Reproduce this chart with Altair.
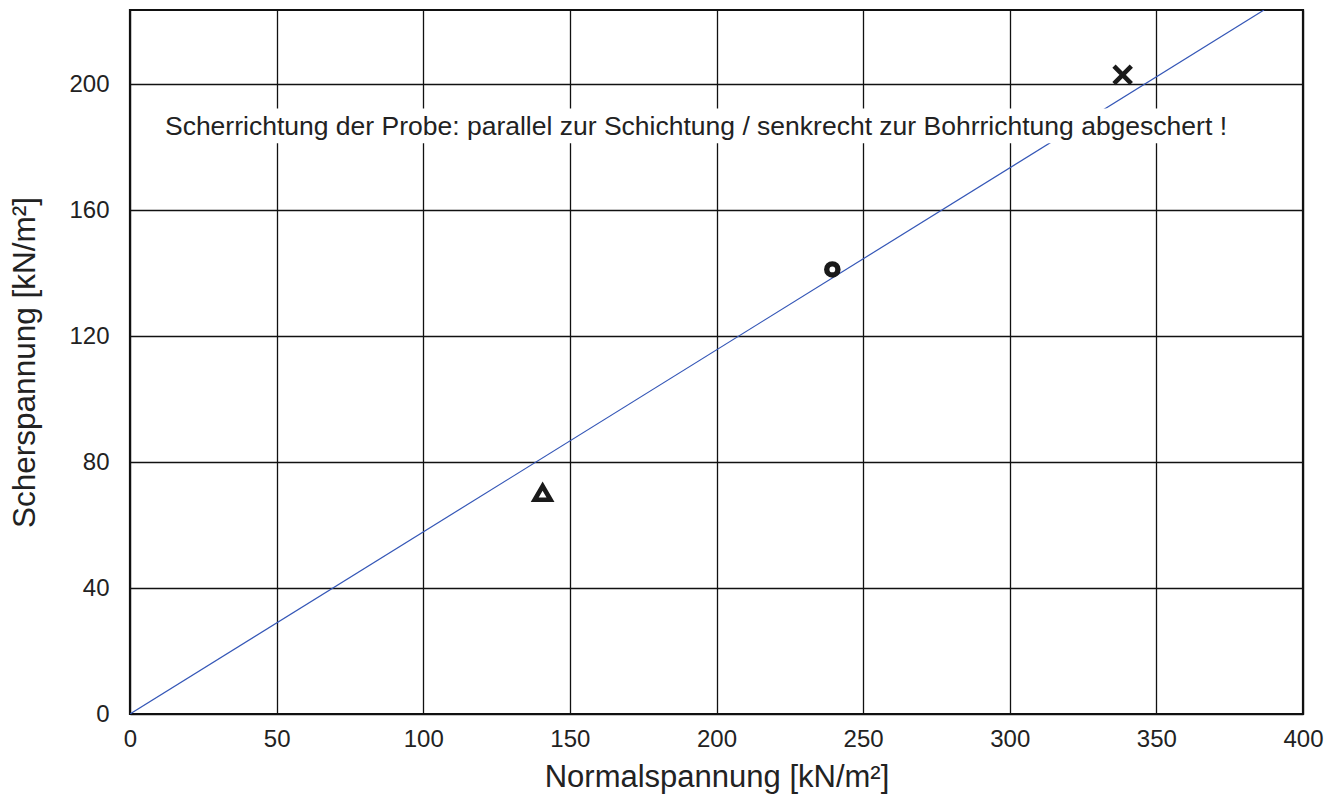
import altair as alt
import pandas as pd

# Shear test results (normal stress vs. shear stress, kN/m²)
test_labels = ["Versuch 1", "Versuch 2", "Versuch 3"]
normal_stress = [140.7, 239.5, 338.5]
shear_stress = [70.2, 141.2, 203.0]
marker_shapes = ["triangle-up", "circle", "M-1,-1L1,1M-1,1L1,-1"]
marker_sizes = [250, 125, 300]
marker_strokes = [4.6, 5.4, 4.6]

# Failure envelope through the origin
envelope_x = [0, 386.7]
envelope_y = [0, 223.6]

x_ticks = [0, 50, 100, 150, 200, 250, 300, 350, 400]
y_ticks = [0, 40, 80, 120, 160, 200]
x_max = 400
y_max = 223.6

note_text = "Scherrichtung der Probe: parallel zur Schichtung / senkrecht zur Bohrrichtung abgeschert !"
note_x = 193.0
note_y = 186.4
note_box_x = [9.0, 377.0]
note_box_y = [181.3, 192.3]

FONT = "Liberation Sans"
INK = "#222222"

x_scale = alt.Scale(domain=[0, x_max], nice=False, zero=True)
y_scale = alt.Scale(domain=[0, y_max], nice=False, zero=True)

x_axis = alt.Axis(
    values=x_ticks, title="Normalspannung [kN/m²]", grid=True,
    gridColor="#111111", gridWidth=1.3, gridOpacity=1, ticks=False,
    domain=False, labelPadding=13, labelFontSize=24, labelFont=FONT,
    labelColor=INK, titleFont=FONT, titleFontSize=31,
    titleFontWeight="normal", titleColor=INK, titlePadding=11,
    labelFlush=False,
)
y_axis = alt.Axis(
    values=y_ticks, title="Scherspannung [kN/m²]", grid=True,
    gridColor="#111111", gridWidth=1.3, gridOpacity=1, ticks=False,
    domain=False, labelPadding=21, labelFontSize=24, labelFont=FONT,
    labelColor=INK, titleFont=FONT, titleFontSize=31.5,
    titleFontWeight="normal", titleColor=INK, titlePadding=27,
    labelFlush=False,
)

base_df = pd.DataFrame({"x": [0], "y": [0]})
grid = alt.Chart(base_df).mark_point(opacity=0).encode(
    x=alt.X("x:Q", scale=x_scale, axis=x_axis),
    y=alt.Y("y:Q", scale=y_scale, axis=y_axis),
)

env_df = pd.DataFrame({"x": envelope_x, "y": envelope_y})
envelope = alt.Chart(env_df).mark_line(color="#3557b7", strokeWidth=1.2, clip=True).encode(
    x=alt.X("x:Q", scale=x_scale),
    y=alt.Y("y:Q", scale=y_scale),
)

box_df = pd.DataFrame({"x": [note_box_x[0]], "x2": [note_box_x[1]],
                       "y": [note_box_y[0]], "y2": [note_box_y[1]]})
note_box = alt.Chart(box_df).mark_rect(color="white").encode(
    x=alt.X("x:Q", scale=x_scale), x2="x2:Q",
    y=alt.Y("y:Q", scale=y_scale), y2="y2:Q",
)

note_df = pd.DataFrame({"x": [note_x], "y": [note_y], "t": [note_text]})
note = alt.Chart(note_df).mark_text(
    font=FONT, fontSize=26.5, color=INK, align="center", baseline="middle"
).encode(
    x=alt.X("x:Q", scale=x_scale),
    y=alt.Y("y:Q", scale=y_scale),
    text="t:N",
)

pts_df = pd.DataFrame({"name": test_labels, "x": normal_stress, "y": shear_stress,
                       "shape": marker_shapes, "size": marker_sizes,
                       "sw": marker_strokes})
points = alt.Chart(pts_df).mark_point(
    filled=False, color="#1a1a1a", opacity=1
).encode(
    x=alt.X("x:Q", scale=x_scale),
    y=alt.Y("y:Q", scale=y_scale),
    shape=alt.Shape("shape:N", scale=None, legend=None),
    size=alt.Size("size:Q", scale=None, legend=None),
    strokeWidth=alt.StrokeWidth("sw:Q", scale=None, legend=None),
)

chart = alt.layer(grid, envelope, note_box, note, points).properties(
    width=1173, height=704,
    autosize=alt.AutoSizeParams(type="none"),
    padding={"left": 130, "top": 10, "right": 22, "bottom": 82},
    background="white",
).configure_view(stroke="#111111", strokeWidth=2.2)

chart.save("out.html", embed_options={"renderer": "svg", "actions": False})
